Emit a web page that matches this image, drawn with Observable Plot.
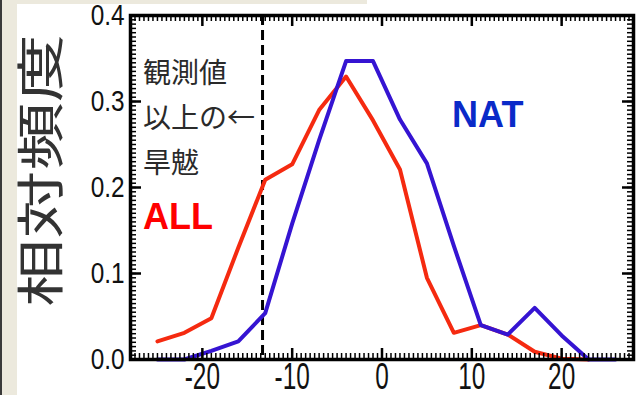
<!DOCTYPE html>
<html><head><meta charset="utf-8">
<script src="https://cdn.jsdelivr.net/npm/d3@7"></script>
<script src="https://cdn.jsdelivr.net/npm/@observablehq/plot@0.6"></script>
<style>
html,body{margin:0;padding:0;background:#fff;}
#wrap{position:relative;width:641px;height:395px;overflow:hidden;background:#fff;}
#stripL{position:absolute;left:0;top:0;width:17px;height:395px;background:#ece9dd;border-left:2px solid #3a3a3a;box-sizing:border-box;}
#stripT{position:absolute;left:17px;top:0;width:350px;height:4px;background:#ece9dd;}
#chart{position:absolute;left:0;top:0;}
</style></head><body>
<div id="wrap"><div id="stripL"></div><div id="stripT"></div><div id="chart"></div></div>
<script>
// bin centres (x) and relative frequencies
const binsAll = [-25,-22,-19,-16,-13,-10,-7,-4,-1,2,5,8,11,14,17,20,23];
const freqAll = [0.021,0.031,0.048,0.13,0.209,0.227,0.29,0.329,0.278,0.221,0.095,0.031,0.040,0.029,0.009,0.001,0.0];
const binsNat = [-25,-22,-19,-16,-13,-10,-7,-4,-1,2,5,8,11,14,17,20,23,26];
const freqNat = [0.0,0.0,0.010,0.021,0.054,0.158,0.255,0.347,0.347,0.279,0.228,0.132,0.040,0.029,0.060,0.028,0.0,0.0];
const observed = [-13.3];
const xTicks = [-20,-10,0,10,20];
const yTicks = [0.0,0.1,0.2,0.3,0.4];
const yLabel = "相対頻度";
const seriesLabels = [
  {text:"ALL", x:-26.6, y:0.165, color:"#ff0000"},
  {text:"NAT", x:7.8, y:0.284, color:"#0a2ac8"}
];
const note = [{text:"観測値\n以上の←\n旱魃", x:-26.6, y:0.286}];

const allSeries = binsAll.map((x,i)=>({x, y:freqAll[i]}));
const natSeries = binsNat.map((x,i)=>({x, y:freqNat[i]}));

const W = 641, H = 395, mL = 130, mR = 8, mT = 15, mB = 36;
const xDom = [-28, 28], yDom = [0, 0.4];
const pxX = (xDom[1]-xDom[0]) / (W - mL - mR);  // data units per pixel
const pxY = (yDom[1]-yDom[0]) / (H - mT - mB);
const minorX = d3.range(-28, 28.01, 0.5);
const minorY = d3.range(0, 0.4001, 0.005);
const minL = 6, majL = 11;
const tickStyle = (w) => ({stroke: "#000", strokeWidth: w});

const plot = Plot.plot({
  width: W, height: H,
  marginLeft: mL, marginRight: mR, marginTop: mT, marginBottom: mB,
  style: {background: "transparent", fontFamily: "'Liberation Sans',Arial,sans-serif", color:"#111"},
  x: {domain: xDom},
  y: {domain: yDom},
  marks: [
    Plot.ruleX(observed, {stroke: "#000", strokeWidth: 3, strokeDasharray: "10,5"}),
    Plot.line(allSeries, {x: "x", y: "y", stroke: "#f52a10", strokeWidth: 4}),
    Plot.line(natSeries, {x: "x", y: "y", stroke: "#3514d2", strokeWidth: 4}),
    // minor ticks (inward on all four sides)
    Plot.ruleX(minorX, {x: d => d, y1: yDom[0], y2: yDom[0] + minL*pxY, ...tickStyle(1.5)}),
    Plot.ruleX(minorX, {x: d => d, y1: yDom[1] - minL*pxY, y2: yDom[1], ...tickStyle(1.5)}),
    Plot.ruleY(minorY, {y: d => d, x1: xDom[0], x2: xDom[0] + minL*pxX, ...tickStyle(1.5)}),
    Plot.ruleY(minorY, {y: d => d, x1: xDom[1] - minL*pxX, x2: xDom[1], ...tickStyle(1.5)}),
    // major ticks
    Plot.ruleX(xTicks, {x: d => d, y1: yDom[0], y2: yDom[0] + majL*pxY, ...tickStyle(2.5)}),
    Plot.ruleX(xTicks, {x: d => d, y1: yDom[1] - majL*pxY, y2: yDom[1], ...tickStyle(2.5)}),
    Plot.ruleY(yTicks, {y: d => d, x1: xDom[0], x2: xDom[0] + majL*pxX, ...tickStyle(2.5)}),
    Plot.ruleY(yTicks, {y: d => d, x1: xDom[1] - majL*pxX, x2: xDom[1], ...tickStyle(2.5)}),
    Plot.frame({stroke: "#000", strokeWidth: 3.5}),
    Plot.axisX({ticks: xTicks, tickSize: 0, tickPadding: 4, fontSize: 29, label: null, tickFormat: d => String(d)}),
    Plot.axisY({ticks: yTicks, tickSize: 0, tickPadding: 6, fontSize: 29, label: null, tickFormat: d3.format(".1f")}),
    Plot.text(seriesLabels, {x: "x", y: "y", text: "text", fill: "color", textAnchor: "start", fontSize: 36, fontWeight: "bold", fontFamily: "'Liberation Sans',Arial,sans-serif"}),
    Plot.text(note, {x: "x", y: "y", text: "text", textAnchor: "start", fontSize: 28, lineHeight: 1.6, fill: "#2a2a2a", fontFamily: "'Noto Sans CJK JP',sans-serif"}),
    Plot.text([yLabel], {frameAnchor: "left", textAnchor: "middle", dx: -88, dy: -17, rotate: -90, fontSize: 48, fill: "#333", fontFamily: "'Noto Sans CJK JP',sans-serif"})
  ]
});
document.getElementById("chart").appendChild(plot);
const svg = d3.select(plot);
svg.selectAll("text").filter(function(){ return this.textContent === yLabel; })
  .attr("transform", function(){ return (d3.select(this).attr("transform") || "") + " scale(1.42,1)"; });
svg.selectAll('g[aria-label="x-axis tick label"] text')
  .attr("transform", function(){ return (d3.select(this).attr("transform") || "") + " scale(0.84,1.25)"; });
svg.selectAll('g[aria-label="y-axis tick label"] text')
  .attr("transform", function(){ return (d3.select(this).attr("transform") || "") + " scale(0.84,1)"; });
</script>
</body></html>
